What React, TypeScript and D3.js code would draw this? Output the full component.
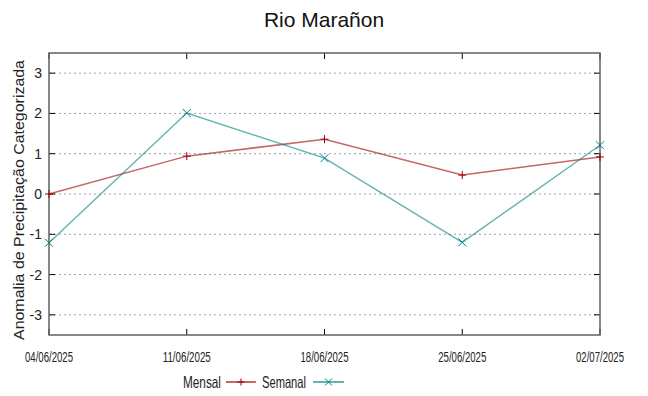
import { useEffect, useRef } from 'react';
import * as d3 from 'd3';

const dates = ['04/06/2025', '11/06/2025', '18/06/2025', '25/06/2025', '02/07/2025'];
const mensal = [0.0, 0.94, 1.36, 0.47, 0.92];
const semanal = [-1.21, 2.01, 0.89, -1.2, 1.21];
const yTicks = [-3, -2, -1, 0, 1, 2, 3];

export default function App() {
  const svgRef = useRef<SVGSVGElement>(null);

  useEffect(() => {
    if (!svgRef.current) return;
    const svg = d3.select(svgRef.current);
    svg.selectAll('*').remove();

    const width = 648;
    const height = 396;
    const left = 49;
    const right = 600;
    const top = 53;
    const bottom = 335;

    const parse = d3.timeParse('%d/%m/%Y');
    const times = dates.map(d => parse(d) as Date);

    const x = d3.scaleTime()
      .domain([times[0], times[times.length - 1]])
      .range([left, right]);
    const y = d3.scaleLinear().domain([-3.5, 3.5]).range([bottom, top]);

    svg.attr('width', width).attr('height', height)
      .style('font-family', '"Liberation Sans", Arial, sans-serif');

    // Grid
    svg.append('g')
      .selectAll('line')
      .data(yTicks)
      .join('line')
      .attr('x1', left)
      .attr('x2', right)
      .attr('y1', d => y(d))
      .attr('y2', d => y(d))
      .attr('stroke', '#a0a0a0')
      .attr('stroke-width', 1)
      .attr('stroke-dasharray', '2,3');

    // Ticks (inward, mirrored)
    const ticks = svg.append('g').attr('stroke', '#000').attr('stroke-width', 1);
    yTicks.forEach(t => {
      ticks.append('line').attr('x1', left).attr('x2', left + 6).attr('y1', y(t)).attr('y2', y(t));
      ticks.append('line').attr('x1', right).attr('x2', right - 6).attr('y1', y(t)).attr('y2', y(t));
    });
    times.forEach(t => {
      ticks.append('line').attr('x1', x(t)).attr('x2', x(t)).attr('y1', bottom).attr('y2', bottom - 6);
      ticks.append('line').attr('x1', x(t)).attr('x2', x(t)).attr('y1', top).attr('y2', top + 6);
    });

    // Border
    svg.append('rect')
      .attr('x', left)
      .attr('y', top)
      .attr('width', right - left)
      .attr('height', bottom - top)
      .attr('fill', 'none')
      .attr('stroke', '#606060')
      .attr('stroke-width', 1.5);

    // Y tick labels
    svg.append('g')
      .selectAll('text')
      .data(yTicks)
      .join('text')
      .attr('x', left - 7)
      .attr('y', d => y(d))
      .attr('text-anchor', 'end')
      .attr('dominant-baseline', 'central')
      .style('font-size', '14px')
      .style('fill', '#222')
      .text(d => d);

    // X tick labels (condensed)
    svg.append('g')
      .selectAll('text')
      .data(times)
      .join('text')
      .attr('x', d => x(d))
      .attr('y', 357)
      .attr('text-anchor', 'middle')
      .attr('dominant-baseline', 'central')
      .attr('textLength', 48)
      .attr('lengthAdjust', 'spacingAndGlyphs')
      .style('font-size', '14px')
      .style('fill', '#222')
      .text((d, i) => dates[i]);

    // Title
    svg.append('text')
      .attr('x', 324)
      .attr('y', 19)
      .attr('text-anchor', 'middle')
      .attr('dominant-baseline', 'central')
      .style('font-size', '21px')
      .style('fill', '#111')
      .text('Rio Marañon');

    // Y axis label
    svg.append('text')
      .attr('transform', `translate(18, ${(top + bottom) / 2 + 6}) rotate(-90)`)
      .attr('text-anchor', 'middle')
      .attr('dominant-baseline', 'central')
      .attr('textLength', 280)
      .attr('lengthAdjust', 'spacingAndGlyphs')
      .style('font-size', '15px')
      .style('fill', '#222')
      .text('Anomalia de Precipitação Categorizada');

    const line = d3.line<number>()
      .x((d, i) => x(times[i]))
      .y(d => y(d));

    const series = [
      { name: 'Mensal', values: mensal, color: '#a00000', marker: 'plus' },
      { name: 'Semanal', values: semanal, color: '#008080', marker: 'cross' },
    ];

    const markerPath = (type: string, cx: number, cy: number, s = 4) =>
      type === 'plus'
        ? `M${cx - s},${cy}H${cx + s}M${cx},${cy - s}V${cy + s}`
        : `M${cx - s},${cy - s}L${cx + s},${cy + s}M${cx - s},${cy + s}L${cx + s},${cy - s}`;

    series.forEach(s => {
      svg.append('path')
        .datum(s.values)
        .attr('d', line)
        .attr('fill', 'none')
        .attr('stroke', s.color)
        .attr('stroke-opacity', 0.6)
        .attr('stroke-width', 1.5);

      svg.append('g')
        .selectAll('path')
        .data(s.values)
        .join('path')
        .attr('d', (d, i) => markerPath(s.marker, x(times[i]), y(d)))
        .attr('stroke', s.color)
        .attr('stroke-width', 1);
    });

    // Legend
    const legendY = 382;
    const legend = [
      { text: 'Mensal', textStart: 183, textLen: 38, x1: 226, x2: 256, s: series[0] },
      { text: 'Semanal', textStart: 262, textLen: 44, x1: 313, x2: 344, s: series[1] },
    ];
    legend.forEach(l => {
      svg.append('text')
        .attr('x', l.textStart)
        .attr('y', legendY)
        .attr('dominant-baseline', 'central')
        .attr('textLength', l.textLen)
        .attr('lengthAdjust', 'spacingAndGlyphs')
        .style('font-size', '16.5px')
        .style('fill', '#222')
        .text(l.text);
      svg.append('line')
        .attr('x1', l.x1)
        .attr('x2', l.x2)
        .attr('y1', legendY)
        .attr('y2', legendY)
        .attr('stroke', l.s.color)
        .attr('stroke-width', 1.2);
      svg.append('path')
        .attr('d', markerPath(l.s.marker, (l.x1 + l.x2) / 2, legendY, 3.5))
        .attr('stroke', l.s.color)
        .attr('stroke-width', 1);
    });
  }, []);

  return (
    <div style={{ position: 'absolute', left: 0, top: 0 }}>
      <svg ref={svgRef} style={{ display: 'block' }} />
    </div>
  );
}
